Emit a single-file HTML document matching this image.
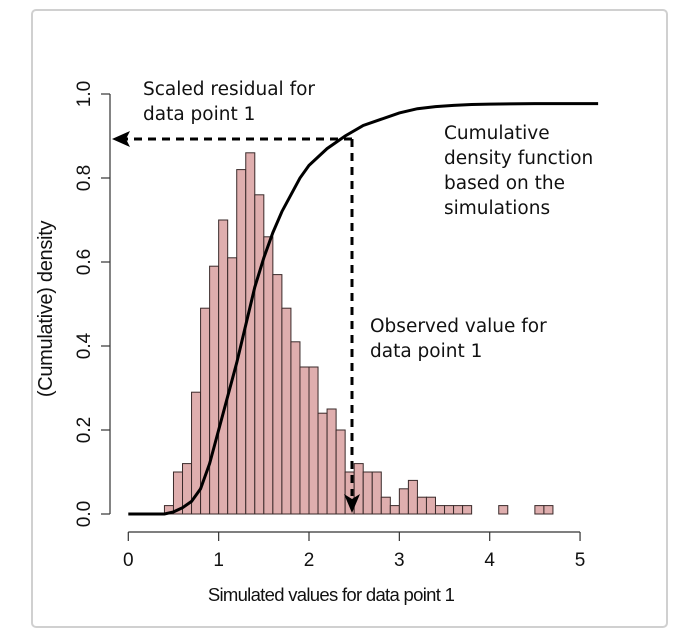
<!DOCTYPE html>
<html><head><meta charset="utf-8"><style>
html,body{margin:0;padding:0;background:#fff;}
svg{display:block;font-family:"Liberation Sans",Arial,sans-serif;}
.ann{font-family:"DejaVu Sans","Liberation Sans",sans-serif;font-size:18.5px;fill:#111;}
</style></head><body>
<svg id="chart" width="677" height="642" viewBox="0 0 677 642">
<rect x="32" y="10" width="635" height="617" rx="4" fill="#fff" stroke="#d0d0d0" stroke-width="2"/>
<g id="bars"></g>
<path id="cdf" fill="none" stroke="#000" stroke-width="3"/>
<g id="axes"></g>
<g>
<line x1="352" y1="139" x2="126" y2="139" stroke="#000" stroke-width="3" stroke-dasharray="8,6"/>
<polygon points="112,139 130,131 126,139 130,147" fill="#000"/>
<line x1="352" y1="139" x2="352" y2="496" stroke="#000" stroke-width="3" stroke-dasharray="8,6"/>
<polygon points="352,513 344,494 352,499 360,494" fill="#000"/>
</g>
<text class="ann" x="143" y="95">Scaled residual for</text>
<text class="ann" x="143" y="120">data point 1</text>
<text class="ann" x="444" y="139">Cumulative</text>
<text class="ann" x="444" y="164">density function</text>
<text class="ann" x="444" y="189">based on the</text>
<text class="ann" x="444" y="214">simulations</text>
<text class="ann" x="370" y="332">Observed value for</text>
<text class="ann" x="370" y="357">data point 1</text>
<text x="331" y="601" text-anchor="middle" font-size="18.5" letter-spacing="-0.7" fill="#111">Simulated values for data point 1</text>
<text transform="translate(52,309) rotate(-90)" text-anchor="middle" font-size="20" letter-spacing="-0.3" fill="#111">(Cumulative) density</text>
</svg>
<script>
const binStarts=[0.4,0.5,0.6,0.7,0.8,0.9,1.0,1.1,1.2,1.3,1.4,1.5,1.6,1.7,1.8,1.9,2.0,2.1,2.2,2.3,2.4,2.5,2.6,2.7,2.8,2.9,3.0,3.1,3.2,3.3,3.4,3.5,3.6,3.7,4.1,4.5,4.6];
const binHeights=[0.02,0.10,0.12,0.29,0.49,0.59,0.70,0.61,0.82,0.86,0.76,0.66,0.57,0.49,0.41,0.35,0.35,0.24,0.25,0.20,0.10,0.12,0.10,0.10,0.04,0.02,0.06,0.08,0.04,0.04,0.02,0.02,0.02,0.02,0.02,0.02,0.02];
const binWidth=0.1;
const cdfX=[0,0.4,0.5,0.6,0.7,0.8,0.9,1.0,1.1,1.2,1.3,1.4,1.5,1.6,1.7,1.8,1.9,2.0,2.2,2.4,2.6,2.8,3.0,3.2,3.4,3.6,3.8,4.0,4.5,5.2];
const cdfY=[0,0,0.005,0.015,0.03,0.06,0.12,0.2,0.28,0.36,0.45,0.54,0.61,0.67,0.72,0.76,0.80,0.83,0.87,0.90,0.925,0.94,0.955,0.965,0.97,0.973,0.975,0.976,0.977,0.977];
const xTicks=[0,1,2,3,4,5];
const yTicks=[0,0.2,0.4,0.6,0.8,1.0];
const yTickLabels=["0.0","0.2","0.4","0.6","0.8","1.0"];
const NS="http://www.w3.org/2000/svg";
const sx=v=>128.3+v*90.35;
const sy=v=>514-v*420;
const bars=document.getElementById('bars');
binStarts.forEach((b,i)=>{
 const r=document.createElementNS(NS,'rect');
 r.setAttribute('x',sx(b));r.setAttribute('width',sx(b+binWidth)-sx(b));
 r.setAttribute('y',sy(binHeights[i]));r.setAttribute('height',sy(0)-sy(binHeights[i]));
 r.setAttribute('fill','#dfaeae');r.setAttribute('stroke','#3a2a2a');r.setAttribute('stroke-width','1');
 
 
 bars.appendChild(r);
});
document.getElementById('cdf').setAttribute('d',cdfX.map((x,i)=>(i?'L':'M')+sx(x)+' '+sy(cdfY[i])).join(' '));
const ax=document.getElementById('axes');
function el(t,a){const e=document.createElementNS(NS,t);for(const k in a)e.setAttribute(k,a[k]);ax.appendChild(e);return e;}
const xl=el('line',{x1:sx(0),x2:sx(5),y1:532,y2:532,stroke:'#333','stroke-width':1.2});


xTicks.forEach(t=>{
 const tk=el('line',{x1:sx(t),x2:sx(t),y1:532,y2:541,stroke:'#333','stroke-width':1.2});
 
 
 const tx=el('text',{x:sx(t),y:566,'text-anchor':'middle','font-size':19,fill:'#111'});
 tx.textContent=t;
 
 
});
const yl=el('line',{x1:110,x2:110,y1:sy(0),y2:sy(1),stroke:'#333','stroke-width':1.2});


yTicks.forEach((t,i)=>{
 const tk=el('line',{x1:101,x2:110,y1:sy(t),y2:sy(t),stroke:'#333','stroke-width':1.2});
 
 
 const tx=el('text',{transform:`translate(90,${sy(t)}) rotate(-90)`,'text-anchor':'middle','font-size':19,fill:'#111'});
 tx.textContent=yTickLabels[i];
 
 
});
</script>
</body></html>
